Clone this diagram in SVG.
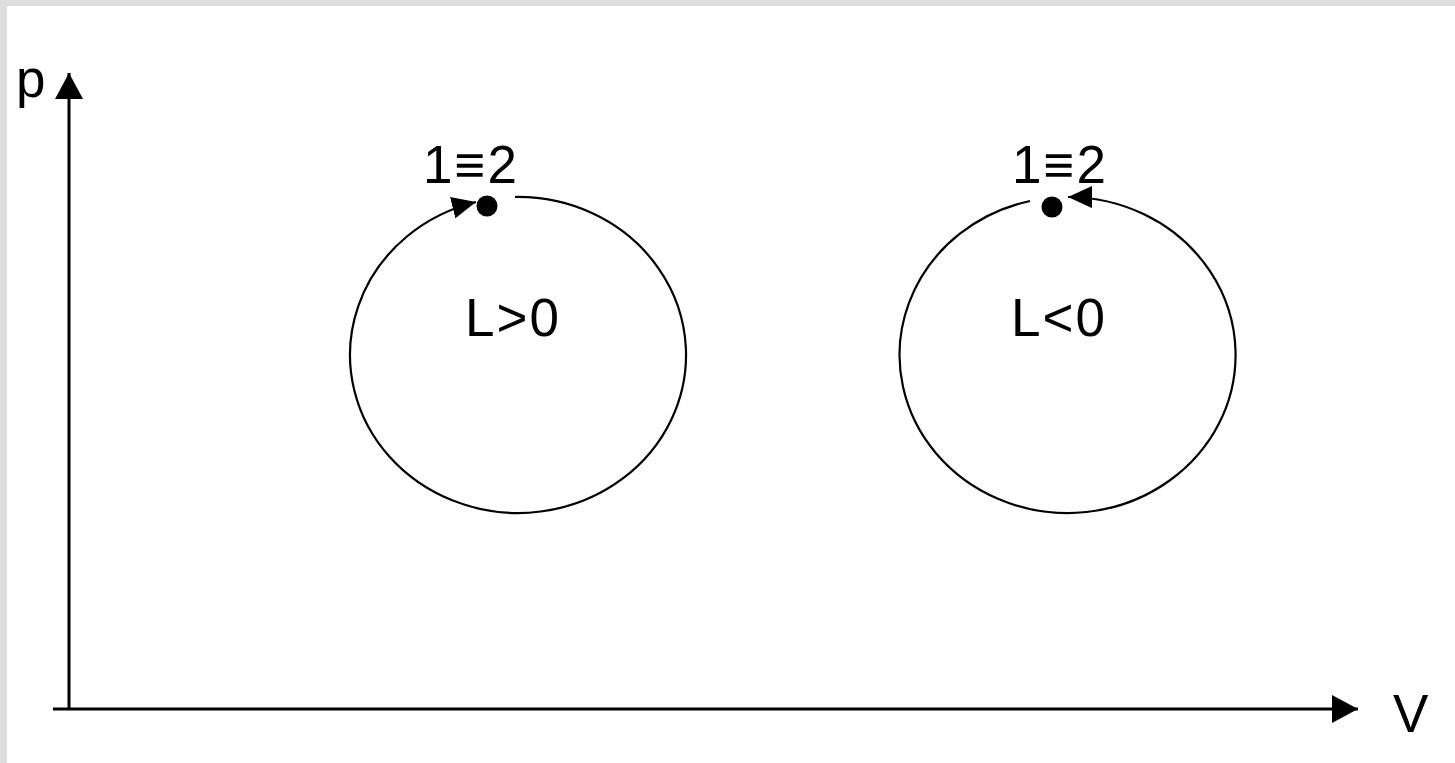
<svg xmlns="http://www.w3.org/2000/svg" width="1455" height="763" viewBox="0 0 1455 763">
  <defs>
    <style>
      .lbl { font-family: "Liberation Sans", Arial, sans-serif; font-size: 53px; fill: #000; letter-spacing: 2px; }
      .axis { stroke: #000; stroke-width: 3; fill: none; }
      .cyc { stroke: #000; stroke-width: 2.2; fill: none; }
    </style>
    <marker id="axisArrow" viewBox="0 0 26 28" refX="26" refY="14" markerWidth="26" markerHeight="28" markerUnits="userSpaceOnUse" orient="auto">
      <path d="M0,0 L26,14 L0,28 Z" fill="#000"/>
    </marker>
    <marker id="cycArrow" viewBox="0 0 24 22" refX="24" refY="11" markerWidth="24" markerHeight="22" markerUnits="userSpaceOnUse" orient="auto">
      <path d="M0,0 L24,11 L0,22 Z" fill="#000"/>
    </marker>
  </defs>
  <rect x="0" y="0" width="1455" height="763" fill="#dedede"/>
  <rect x="7" y="6" width="1448" height="757" fill="#ffffff"/>

  <g id="connectors">
    <path class="axis" d="M69,710 L69,73" marker-end="url(#axisArrow)"/>
    <path class="axis" d="M53,709 L1358,709" marker-end="url(#axisArrow)"/>
    <path class="cyc" d="M515,197 A168,158 0 1 1 476,202" marker-end="url(#cycArrow)"/>
    <path class="cyc" d="M1030,201 A168,158 0 1 0 1068,197" marker-end="url(#cycArrow)"/>
  </g>

  <g id="axis-p">
    <text class="lbl" x="16" y="97">p</text>
  </g>
  <g id="axis-V">
    <text class="lbl" x="1393" y="732">V</text>
  </g>

  <g id="cycle-left">
    <circle cx="487" cy="206" r="10.5" fill="#000"/>
    <text class="lbl" x="423" y="183">1≡2</text>
    <text class="lbl" x="465" y="336">L&gt;0</text>
  </g>

  <g id="cycle-right">
    <circle cx="1052" cy="207" r="10.5" fill="#000"/>
    <text class="lbl" x="1012" y="183">1≡2</text>
    <text class="lbl" x="1011" y="336">L&lt;0</text>
  </g>
</svg>
